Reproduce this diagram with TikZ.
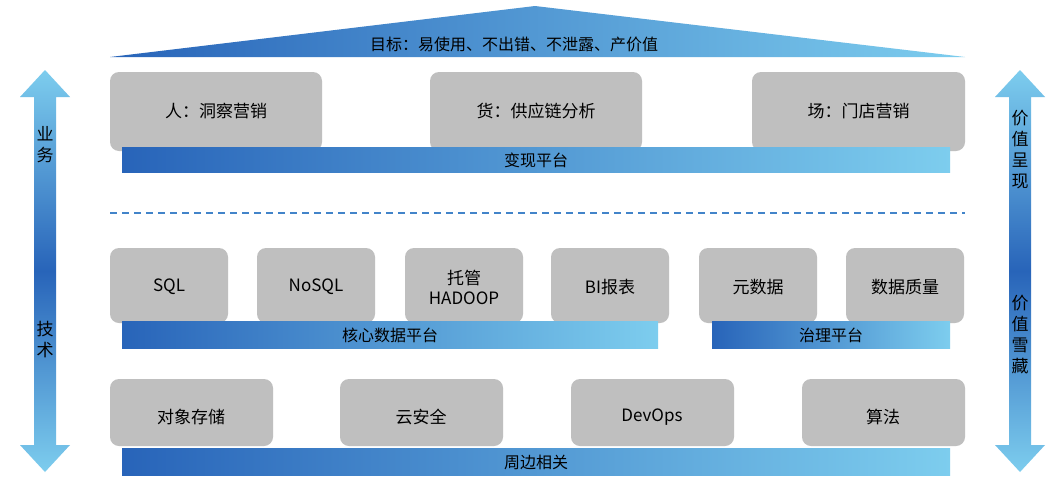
\documentclass[tikz,border=0pt]{standalone}
\usepackage{fontspec}
\setmainfont{Noto Sans CJK SC}
\usetikzlibrary{shadings}
\definecolor{dk}{RGB}{40,100,185}
\definecolor{lt}{RGB}{125,205,238}
\definecolor{bx}{RGB}{191,191,191}
\tikzset{
 box/.style={fill=bx,rounded corners=9pt,draw=none},
 bar/.style={left color=dk,right color=lt,draw=none},
 lab/.style={font=\fontsize{17}{20}\selectfont,text=black,align=center},
}
\begin{document}
\begin{tikzpicture}[x=1pt,y=-1pt]
\useasboundingbox (0,0) rectangle (1062,490);
\fill[white] (0,0) rectangle (1062,490);
% roof
\shade[left color=dk,right color=lt] (110,57) -- (535,6) -- (965,57) -- cycle;
\node[lab,font=\fontsize{16}{19}\selectfont] (goal) at (514,44) {目标：易使用、不出错、不泄露、产价值};
% top row
\foreach \n/\a/\b/\t in {p/110/322/人：洞察营销, g/430/642/货：供应链分析, c/752/965/场：门店营销}{
  \fill[box] (\a,72) rectangle (\b,151);
  \node[lab] (\n) at ({(\a+\b)/2},111) {\t};
}
\shade[bar] (122,147) rectangle (950,172);
\node[lab,font=\fontsize{16}{19}\selectfont] (bx1) at (536,160) {变现平台};
\draw[dk!70!lt,dashed,line width=1.3pt,dash pattern=on 7pt off 5pt] (110,213) -- (965,213);
% middle row
\foreach \n/\a/\t in {m1/110/SQL, m2/257/NoSQL, m3/405/{托管\\HADOOP}, m4/551/BI报表, m5/699/元数据, m6/846/数据质量}{
  \fill[box] (\a,248) rectangle ({\a+118},323);
  \node[lab] (\n) at ({\a+59},287) {\t};
}
\shade[bar] (122,321) rectangle (658,348);
\node[lab,font=\fontsize{16}{19}\selectfont] (bx2) at (390,335) {核心数据平台};
\shade[bar] (712,321) rectangle (950,348);
\node[lab,font=\fontsize{16}{19}\selectfont] (bx3) at (831,335) {治理平台};
% bottom row
\foreach \n/\a/\t in {b1/110/对象存储, b2/340/云安全, b3/571/DevOps, b4/802/算法}{
  \fill[box] (\a,379) rectangle ({\a+163},446);
  \node[lab] (\n) at ({\a+81},417) {\t};
}
\shade[bar] (122,448) rectangle (950,475);
\node[lab,font=\fontsize{16}{19}\selectfont] (bx4) at (536,462) {周边相关};
% vertical arrows
\foreach \x in {45,1020}{
 \shade[top color=lt,bottom color=lt,middle color=dk]
  (\x,70) -- (\x+25,97) -- (\x+11,97) -- (\x+11,445) -- (\x+25,445) -- (\x,472)
  -- (\x-25,445) -- (\x-11,445) -- (\x-11,97) -- (\x-25,97) -- cycle;
}
\node[lab,font=\fontsize{17}{21}\selectfont] (l1) at (45,145) {业\\务};
\node[lab,font=\fontsize{17}{21}\selectfont] (l2) at (45,340) {技\\术};
\node[lab,font=\fontsize{17}{21}\selectfont] (r1) at (1020,150) {价\\值\\呈\\现};
\node[lab,font=\fontsize{17}{21}\selectfont] (r2) at (1020,335) {价\\值\\雪\\藏};
\end{tikzpicture}
\end{document}
